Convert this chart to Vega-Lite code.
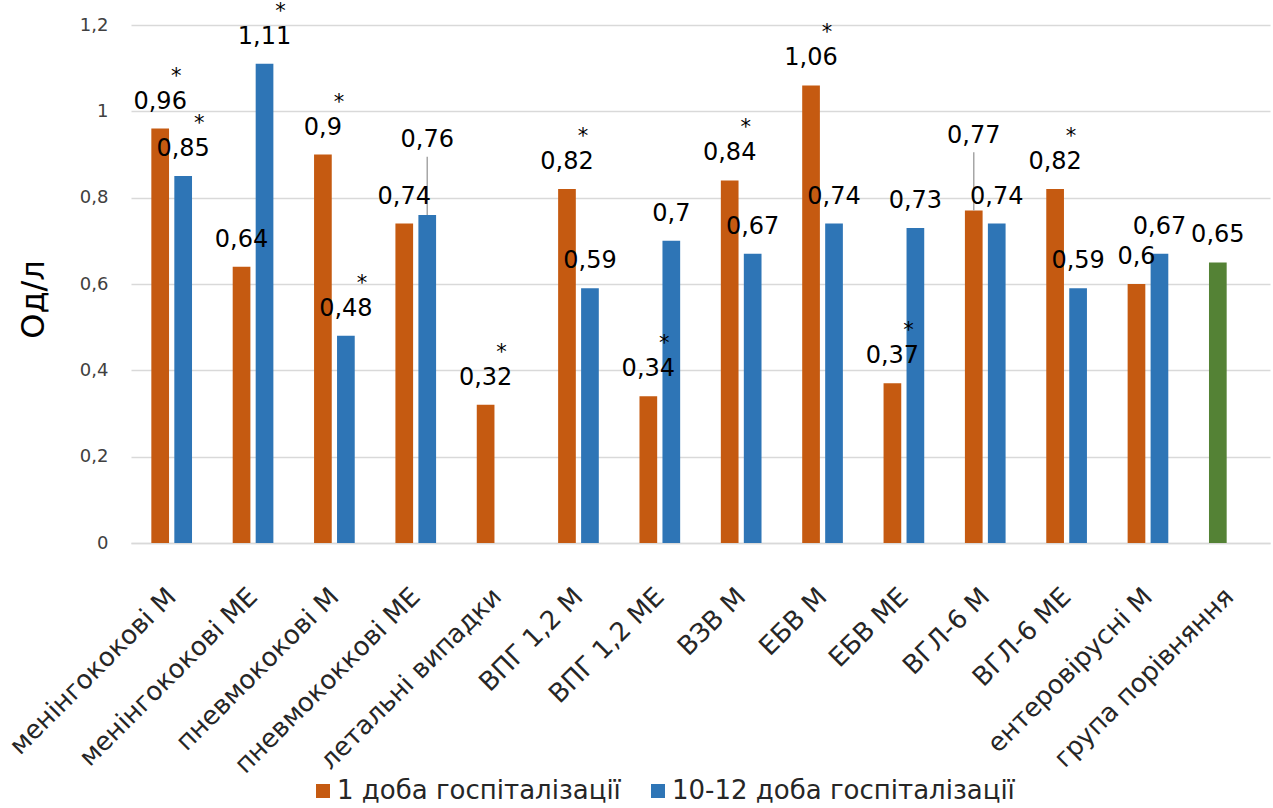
{
  "$schema": "https://vega.github.io/schema/vega-lite/v6.json",
  "width": 1139,
  "height": 518,
  "autosize": {"type": "none"},
  "padding": {"left": 131, "top": 25, "right": 3, "bottom": 265},
  "background": "white",
  "config": {"view": {"stroke": null}},
  "data": {
    "values": [
      {"category": "менінгококові М", "series": "1 доба госпіталізації", "value": 0.96, "sig": true},
      {"category": "менінгококові М", "series": "10-12 доба госпіталізації", "value": 0.85, "sig": true},
      {"category": "менінгококові МЕ", "series": "1 доба госпіталізації", "value": 0.64, "sig": false},
      {"category": "менінгококові МЕ", "series": "10-12 доба госпіталізації", "value": 1.11, "sig": true},
      {"category": "пневмококові М", "series": "1 доба госпіталізації", "value": 0.9, "sig": true},
      {"category": "пневмококові М", "series": "10-12 доба госпіталізації", "value": 0.48, "sig": true},
      {"category": "пневмококкові МЕ", "series": "1 доба госпіталізації", "value": 0.74, "sig": false},
      {"category": "пневмококкові МЕ", "series": "10-12 доба госпіталізації", "value": 0.76, "sig": false},
      {"category": "летальні випадки", "series": "1 доба госпіталізації", "value": 0.32, "sig": true},
      {"category": "ВПГ 1,2 М", "series": "1 доба госпіталізації", "value": 0.82, "sig": true},
      {"category": "ВПГ 1,2 М", "series": "10-12 доба госпіталізації", "value": 0.59, "sig": false},
      {"category": "ВПГ 1,2 МЕ", "series": "1 доба госпіталізації", "value": 0.34, "sig": true},
      {"category": "ВПГ 1,2 МЕ", "series": "10-12 доба госпіталізації", "value": 0.7, "sig": false},
      {"category": "ВЗВ М", "series": "1 доба госпіталізації", "value": 0.84, "sig": true},
      {"category": "ВЗВ М", "series": "10-12 доба госпіталізації", "value": 0.67, "sig": false},
      {"category": "ЕБВ М", "series": "1 доба госпіталізації", "value": 1.06, "sig": true},
      {"category": "ЕБВ М", "series": "10-12 доба госпіталізації", "value": 0.74, "sig": false},
      {"category": "ЕБВ МЕ", "series": "1 доба госпіталізації", "value": 0.37, "sig": true},
      {"category": "ЕБВ МЕ", "series": "10-12 доба госпіталізації", "value": 0.73, "sig": false},
      {"category": "ВГЛ-6 М", "series": "1 доба госпіталізації", "value": 0.77, "sig": false},
      {"category": "ВГЛ-6 М", "series": "10-12 доба госпіталізації", "value": 0.74, "sig": false},
      {"category": "ВГЛ-6 МЕ", "series": "1 доба госпіталізації", "value": 0.82, "sig": true},
      {"category": "ВГЛ-6 МЕ", "series": "10-12 доба госпіталізації", "value": 0.59, "sig": false},
      {"category": "ентеровірусні М", "series": "1 доба госпіталізації", "value": 0.6, "sig": false},
      {"category": "ентеровірусні М", "series": "10-12 доба госпіталізації", "value": 0.67, "sig": false},
      {"category": "група порівняння", "series": "1 доба госпіталізації", "value": 0.65, "sig": false}
    ]
  },
  "transform": [
    {
      "joinaggregate": [
        {"op": "max", "field": "value", "as": "hi"},
        {"op": "min", "field": "value", "as": "lo"},
        {"op": "count", "as": "n"}
      ],
      "groupby": ["category"]
    },
    {"calculate": "datum.n == 2 && datum.hi - datum.lo < 0.05 && datum.value == datum.hi", "as": "lifted"},
    {"calculate": "datum.lifted ? datum.value + 0.11 : datum.value", "as": "labelAt"},
    {"calculate": "datum.value + 0.135", "as": "leaderTop"},
    {"calculate": "replace(format(datum.value, '~g'), '.', ',')", "as": "label"}
  ],
  "encoding": {
    "x": {
      "field": "category",
      "type": "nominal",
      "sort": null,
      "title": null,
      "scale": {"paddingInner": 0.5, "paddingOuter": 0.25},
      "axis": {
        "domain": true,
        "domainColor": "#d9d9d9",
        "domainWidth": 1.3,
        "ticks": false,
        "labelAngle": -45,
        "labelAlign": "right",
        "labelBaseline": "top",
        "labelPadding": 40,
        "labelOffset": -9,
        "labelFont": "DejaVu Sans",
        "labelFontSize": 26,
        "labelColor": "#262626",
        "labelLimit": 0,
        "labelOverlap": false
      }
    },
    "xOffset": {
      "field": "series",
      "type": "nominal",
      "sort": ["1 доба госпіталізації", "10-12 доба госпіталізації"],
      "scale": {"paddingInner": 0.23, "paddingOuter": 0}
    }
  },
  "layer": [
    {
      "mark": {"type": "bar"},
      "encoding": {
        "y": {
          "field": "value",
          "type": "quantitative",
          "title": "Од/л",
          "scale": {"domain": [0, 1.2], "nice": false},
          "axis": {
            "values": [0, 0.2, 0.4, 0.6, 0.8, 1, 1.2],
            "format": "~g",
            "labelExpr": "replace(datum.label, '.', ',')",
            "domain": false,
            "ticks": false,
            "labelPadding": 23,
            "labelFont": "DejaVu Sans",
            "labelFontSize": 18,
            "labelColor": "#404040",
            "grid": true,
            "gridColor": "#d9d9d9",
            "gridWidth": 1.3,
            "titleFont": "DejaVu Sans",
            "titleFontSize": 32,
            "titleFontWeight": "normal",
            "titleColor": "#000000",
            "titlePadding": 29,
            "titleY": 274
          }
        },
        "color": {
          "condition": {"test": "datum.category === 'група порівняння'", "value": "#548235"},
          "field": "series",
          "type": "nominal",
          "scale": {
            "domain": ["1 доба госпіталізації", "10-12 доба госпіталізації"],
            "range": ["#C55A11", "#2E75B6"]
          },
          "legend": {
            "orient": "none",
            "legendX": 179,
            "legendY": 753,
            "direction": "horizontal",
            "title": null,
            "symbolType": "square",
            "symbolSize": 196,
            "symbolStrokeWidth": 0,
            "labelFont": "DejaVu Sans",
            "labelFontSize": 26,
            "labelColor": "#262626",
            "labelOffset": 1,
            "columnPadding": 24,
            "labelLimit": 0
          }
        }
      }
    },
    {
      "transform": [{"filter": "datum.lifted"}],
      "mark": {"type": "rule", "color": "#a6a6a6", "strokeWidth": 1.5},
      "encoding": {
        "y": {"field": "value", "type": "quantitative", "title": "Од/л"},
        "y2": {"field": "leaderTop"}
      }
    },
    {
      "mark": {
        "type": "text",
        "font": "DejaVu Sans",
        "fontSize": 24,
        "baseline": "alphabetic",
        "dy": -20,
        "color": "#000000"
      },
      "encoding": {
        "y": {"field": "labelAt", "type": "quantitative", "title": "Од/л"},
        "text": {"field": "label"}
      }
    },
    {
      "transform": [{"filter": "datum.sig"}],
      "mark": {
        "type": "text",
        "text": "*",
        "font": "DejaVu Sans",
        "fontSize": 21,
        "baseline": "alphabetic",
        "dx": 16,
        "dy": -46,
        "color": "#000000"
      },
      "encoding": {
        "y": {"field": "labelAt", "type": "quantitative", "title": "Од/л"}
      }
    }
  ]
}
